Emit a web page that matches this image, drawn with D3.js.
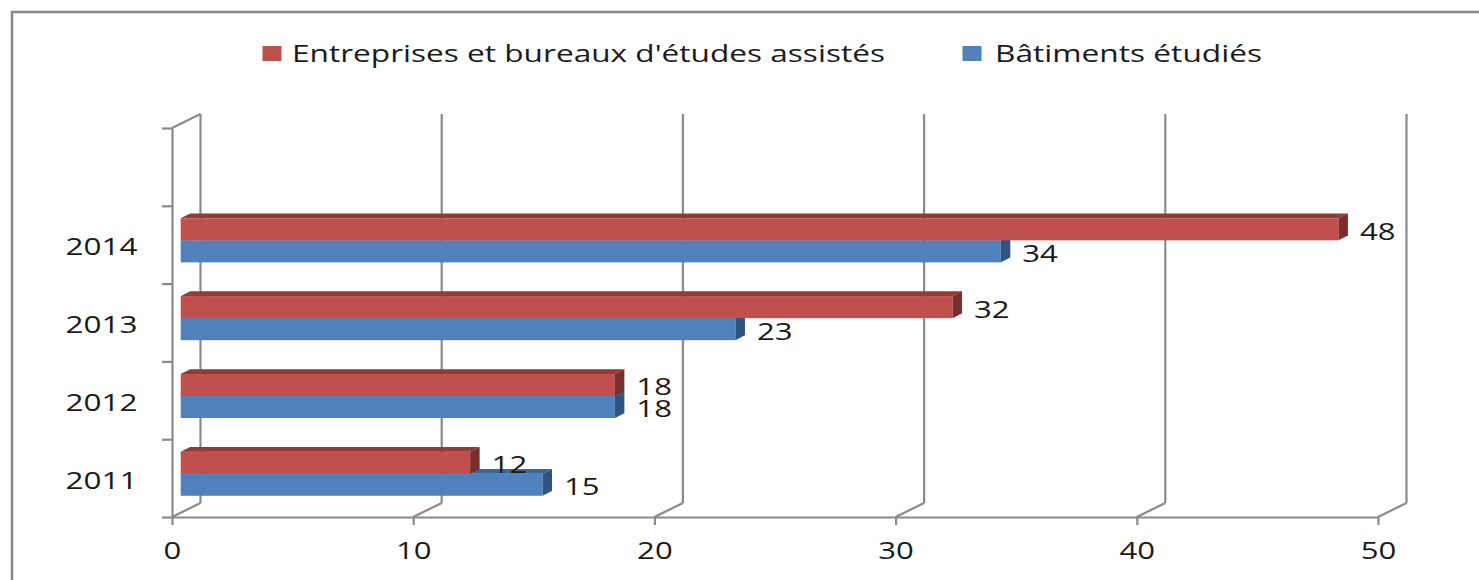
<!DOCTYPE html>
<html>
<head>
<meta charset="utf-8">
<script src="https://cdn.jsdelivr.net/npm/d3@7"></script>
<style>
  html, body { margin: 0; padding: 0; background: #fff; }
  svg { display: block; }
  text { font-family: "Open Sans", "Noto Sans", sans-serif; fill: #1a1a1a; }
</style>
</head>
<body>
<svg id="chart" width="1479" height="580"></svg>
<script>
// ---- data ----
const categories = ["2011", "2012", "2013", "2014", ""];   // top slot is empty in the original
const seriesNames = ["Entreprises et bureaux d'études assistés", "Bâtiments étudiés"];
const entreprises = [12, 18, 32, 48];
const batiments = [15, 18, 23, 34];
const xTicks = [0, 10, 20, 30, 40, 50];

// ---- layout ----
const W = 1479, H = 580;
const svg = d3.select("#chart");
const gridColor = "#8a8a8a";
const colors = {
  ent: { front: "#C0504D", top: "#923a37", side: "#7a2d2b" },
  bat: { front: "#4F81BD", top: "#3d6699", side: "#2f5482" }
};
const floorY = 517, topY = 128;
const DX = 28.5, DY = -14;          // wall depth
const bdx = 8.7, bdy = -4.35;       // bar front offset in depth
const bw = 9.5, bh = 4.8;           // bar depth projection

const x = d3.scaleLinear().domain([0, 50]).range([172, 1378]);
const yIdx = d3.scaleLinear().domain([0, categories.length]).range([floorY, topY]);
const y0 = d3.scaleBand().domain(categories).range([floorY, topY])
  .paddingInner(0.434).paddingOuter(0.217);
const ys = d3.scaleBand().domain(["ent", "bat"]).range([0, y0.bandwidth()]);

// outer frame
svg.append("rect").attr("x", 12).attr("y", 12).attr("width", 1500).attr("height", 620)
  .attr("fill", "none").attr("stroke", "#898989").attr("stroke-width", 2.5);

// back wall gridlines + floor diagonals
const grid = svg.append("g").attr("stroke", gridColor).attr("stroke-width", 2.2).attr("fill", "none");
xTicks.forEach(v => {
  grid.append("line").attr("x1", x(v) + DX).attr("x2", x(v) + DX)
    .attr("y1", floorY + DY).attr("y2", topY + DY);
  grid.append("line").attr("x1", x(v)).attr("y1", floorY)
    .attr("x2", x(v) + DX).attr("y2", floorY + DY);
});
// top-left side wall diagonal
grid.append("line").attr("x1", x(0)).attr("y1", topY).attr("x2", x(0) + DX).attr("y2", topY + DY);

// x axis (front floor edge)
const xAxis = svg.append("g").attr("transform", `translate(0,${floorY})`)
  .call(d3.axisBottom(x).tickValues(xTicks).tickSize(8).tickSizeOuter(0).tickPadding(18));
xAxis.selectAll("path, line").attr("stroke", gridColor).attr("stroke-width", 2.2);
xAxis.selectAll("text")
  .attr("font-size", 23).attr("font-family", "Open Sans")
  .attr("fill", "#1a1a1a")
  .attr("textLength", d => 17.8 * String(d).length)
  .attr("lengthAdjust", "spacingAndGlyphs")
  .attr("dy", "0.71em");

// y axis (front left edge, ticks at category boundaries)
const yAxis = svg.append("g").attr("transform", `translate(${x(0)},0)`)
  .call(d3.axisLeft(yIdx).ticks(categories.length).tickSize(10).tickSizeOuter(0).tickFormat(""));
yAxis.selectAll("path, line").attr("stroke", gridColor).attr("stroke-width", 2.2);

// category labels
svg.append("g").selectAll("text").data(categories.filter(c => c !== "")).join("text")
  .attr("x", d => 137.5 - 18 * d.length)
  .attr("y", d => y0(d) + y0.bandwidth() / 2 + 1.5)
  .attr("dominant-baseline", "central")
  .attr("font-size", 23)
  .attr("textLength", d => 18 * d.length)
  .attr("lengthAdjust", "spacingAndGlyphs")
  .text(d => d);

// bars
const rows = [];
categories.forEach((c, i) => {
  if (c === "") return;
  rows.push({ cat: c, key: "bat", v: batiments[i] });
  rows.push({ cat: c, key: "ent", v: entreprises[i] });
});
const barG = svg.append("g");
rows.forEach(r => {
  const xl = x(0) + bdx, xr = x(r.v) + bdx;
  const yt = y0(r.cat) + ys(r.key) + bdy, yb = yt + ys.bandwidth();
  const c = colors[r.key];
  const g = barG.append("g");
  g.append("rect").attr("x", xl).attr("y", yt).attr("width", xr - xl).attr("height", yb - yt)
    .attr("fill", c.front);
  g.append("polygon")
    .attr("points", [[xl, yt], [xr, yt], [xr + bw, yt - bh], [xl + bw, yt - bh]].map(p => p.join(",")).join(" "))
    .attr("fill", c.top);
  g.append("polygon")
    .attr("points", [[xr, yt], [xr + bw, yt - bh], [xr + bw, yb - bh], [xr, yb]].map(p => p.join(",")).join(" "))
    .attr("fill", c.side);
  // value label
  svg.append("text")
    .attr("x", xr + bw + 12)
    .attr("y", (yt + yb) / 2 + 1.5)
    .attr("dominant-baseline", "central")
    .attr("font-size", 23)
    .attr("textLength", 17.8 * String(r.v).length)
    .attr("lengthAdjust", "spacingAndGlyphs")
    .text(r.v);
});

// legend
const legend = [
  { name: seriesNames[0], color: colors.ent.front, sx: 262.5, tx: 292, tl: 593 },
  { name: seriesNames[1], color: colors.bat.front, sx: 962.5, tx: 995, tl: 267 }
];
const lg = svg.append("g");
legend.forEach(l => {
  lg.append("rect").attr("x", l.sx).attr("y", 46).attr("width", 19).attr("height", 15).attr("fill", l.color);
  lg.append("text").attr("x", l.tx).attr("y", 61.5)
    .attr("font-size", 23)
    .attr("textLength", l.tl).attr("lengthAdjust", "spacingAndGlyphs")
    .text(l.name);
});
</script>
</body>
</html>
